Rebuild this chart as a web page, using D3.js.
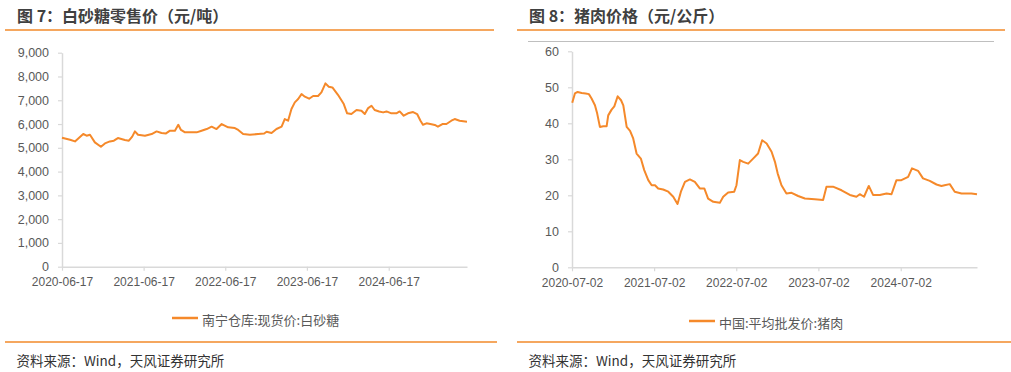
<!DOCTYPE html>
<html><head><meta charset="utf-8">
<script src="https://cdn.jsdelivr.net/npm/d3@7"></script>
<style>
html,body{margin:0;padding:0;background:#fff;}
svg{display:block;}
text{font-family:"Liberation Sans",Arial,"Noto Sans CJK SC",sans-serif;}
.cjk{font-family:"Noto Sans CJK SC","Liberation Sans",sans-serif;}
</style>
</head><body>
<svg id="c" width="1011" height="372"></svg>
<script>
// ---- Figure 7: sugar retail price (元/吨)
const sugarDates = ["2020-06-17","2020-07-23","2020-08-14","2020-09-20","2020-10-05","2020-10-20","2020-11-11","2020-12-08","2020-12-26","2021-01-17","2021-02-04","2021-02-22","2021-03-25","2021-04-12","2021-04-27","2021-05-09","2021-05-23","2021-06-23","2021-07-23","2021-08-14","2021-09-05","2021-09-25","2021-10-13","2021-11-04","2021-11-19","2021-12-01","2021-12-19","2022-01-18","2022-02-09","2022-03-03","2022-03-26","2022-04-17","2022-05-09","2022-06-01","2022-06-30","2022-07-30","2022-08-14","2022-09-05","2022-10-05","2022-11-11","2022-12-08","2022-12-19","2023-01-10","2023-02-01","2023-02-24","2023-03-10","2023-03-25","2023-04-09","2023-04-24","2023-05-09","2023-05-24","2023-06-08","2023-06-27","2023-07-15","2023-08-06","2023-08-21","2023-09-08","2023-09-23","2023-10-09","2023-11-03","2023-11-29","2023-12-14","2024-01-02","2024-01-25","2024-02-16","2024-03-02","2024-03-17","2024-04-01","2024-04-15","2024-05-05","2024-05-23","2024-06-07","2024-06-29","2024-07-21","2024-08-05","2024-08-23","2024-09-11","2024-10-04","2024-10-22","2024-11-06","2024-11-17","2024-12-03","2024-12-20","2025-01-09","2025-01-23","2025-02-12","2025-03-02","2025-03-24","2025-04-08","2025-04-30","2025-06-02"];
const sugarValues = [5420,5340,5270,5580,5510,5550,5230,5046,5185,5270,5300,5410,5330,5300,5470,5690,5550,5510,5580,5690,5620,5605,5720,5720,5970,5750,5650,5650,5650,5720,5790,5890,5790,6000,5860,5830,5750,5580,5550,5580,5600,5677,5620,5790,5890,6210,6140,6630,6910,7050,7260,7150,7065,7180,7180,7330,7710,7570,7540,7230,6840,6450,6420,6590,6560,6420,6670,6770,6590,6530,6490,6530,6450,6450,6530,6350,6450,6505,6420,6140,5970,6030,6000,5960,5890,6000,6000,6140,6210,6140,6100];
const sugarYTicks = [0,1000,2000,3000,4000,5000,6000,7000,8000,9000];
const sugarXTicks = ["2020-06-17","2021-06-17","2022-06-17","2023-06-17","2024-06-17"];

// ---- Figure 8: pork price (元/公斤)
const porkDates = ["2020-07-03","2020-07-15","2020-07-27","2020-08-14","2020-09-01","2020-09-15","2020-09-27","2020-10-12","2020-10-22","2020-11-03","2020-11-18","2020-12-03","2020-12-10","2020-12-25","2021-01-06","2021-01-21","2021-02-05","2021-02-15","2021-03-02","2021-03-17","2021-03-31","2021-04-15","2021-05-04","2021-05-19","2021-06-06","2021-06-21","2021-07-06","2021-07-20","2021-08-11","2021-09-03","2021-09-25","2021-10-14","2021-10-29","2021-11-16","2021-12-08","2021-12-30","2022-01-21","2022-02-10","2022-02-27","2022-03-22","2022-04-20","2022-05-05","2022-05-27","2022-06-23","2022-07-03","2022-07-18","2022-08-02","2022-08-24","2022-09-15","2022-10-07","2022-10-25","2022-11-14","2022-12-06","2022-12-21","2023-01-02","2023-01-19","2023-02-10","2023-03-05","2023-04-03","2023-05-03","2023-06-16","2023-07-23","2023-08-07","2023-09-05","2023-10-13","2023-11-19","2023-12-18","2024-01-02","2024-01-21","2024-02-11","2024-03-01","2024-03-31","2024-04-30","2024-05-22","2024-06-13","2024-07-05","2024-08-04","2024-08-21","2024-09-17","2024-10-09","2024-11-08","2024-12-08","2024-12-30","2025-01-13","2025-02-05","2025-02-27","2025-03-29","2025-05-12","2025-06-06"];
const porkValues = [45.7,48.3,48.7,48.4,48.3,48.1,46.9,45.0,42.7,39.0,39.2,39.2,42.2,43.8,44.7,47.5,46.4,45.0,39.0,37.9,35.8,31.6,30.2,27.0,24.2,22.8,22.8,21.9,21.6,21.0,19.6,17.6,21.0,23.7,24.4,23.7,21.9,21.9,19.1,18.2,17.9,19.6,20.8,21.0,22.8,29.8,29.3,28.8,30.2,31.6,35.3,34.4,32.1,29.3,26.1,22.8,20.5,20.7,19.8,19.1,18.9,18.7,22.4,22.4,21.4,20.1,19.6,20.3,19.6,22.6,20.1,20.1,20.5,20.3,24.2,24.2,25.1,27.5,26.8,24.7,24.0,23.0,22.6,22.8,23.1,21.0,20.5,20.5,20.3];
const porkYTicks = [0,10,20,30,40,50,60];
const porkXTicks = ["2020-07-02","2021-07-02","2022-07-02","2023-07-02","2024-07-02"];

const parse = d3.timeParse("%Y-%m-%d");
const fmtDate = d3.timeFormat("%Y-%m-%d");
const ORANGE = "#F5892A";
const RULE = "#F28A2A";
const AXIS = "#D9D9D9";
const LABEL = "#595959";
const svg = d3.select("#c");

function panel(o){
  const g = svg.append("g");
  // title
  g.append("text").attr("class","cjk").attr("x",o.titleX).attr("y",15)
    .attr("dominant-baseline","central").attr("font-size",16).attr("font-weight","bold")
    .attr("fill","#404040").text(o.title);
  g.append("line").attr("x1",o.ruleX1).attr("x2",o.ruleX2).attr("y1",30).attr("y2",30)
    .attr("stroke",RULE).attr("stroke-width",1.6);
  if(o.topBorder){
    g.append("line").attr("x1",o.topBorder[0]).attr("x2",o.topBorder[1]).attr("y1",41.5).attr("y2",41.5)
      .attr("stroke","#BFBFBF").attr("stroke-width",1);
  }
  const x = d3.scaleTime().domain(o.xDomain.map(parse)).range(o.xRange);
  const y = d3.scaleLinear().domain(o.yDomain).range(o.yRange);

  const ya = g.append("g").attr("transform",`translate(${o.xRange[0]},0)`)
    .call(d3.axisLeft(y).tickValues(o.yTicks).tickSize(4).tickSizeOuter(0).tickPadding(9)
      .tickFormat(o.yFmt));
  ya.select(".domain").attr("stroke",AXIS).attr("stroke-width",1.5);
  ya.selectAll(".tick line").attr("stroke",AXIS).attr("stroke-width",1.2);
  ya.selectAll("text").attr("fill",LABEL).attr("font-size",12.5)
    .attr("font-family","'Liberation Sans',Arial,sans-serif");

  const xa = g.append("g").attr("transform",`translate(0,${o.yRange[0]})`)
    .call(d3.axisBottom(x).tickValues(o.xTicks.map(parse)).tickSize(4).tickSizeOuter(0).tickPadding(7)
      .tickFormat(fmtDate));
  xa.select(".domain").attr("stroke",AXIS).attr("stroke-width",1.5);
  xa.selectAll(".tick line").attr("stroke",AXIS).attr("stroke-width",1.2);
  xa.selectAll("text").attr("fill",LABEL).attr("font-size",12)
    .attr("font-family","'Liberation Sans',Arial,sans-serif");

  const data = o.dates.map((d,i)=>({d:parse(d),v:o.values[i]}));
  g.append("path").datum(data)
    .attr("fill","none").attr("stroke",ORANGE).attr("stroke-width",2)
    .attr("stroke-linejoin","round")
    .attr("d",d3.line().x(p=>x(p.d)).y(p=>y(p.v)));

  // legend
  g.append("line").attr("x1",o.legX).attr("x2",o.legX+26).attr("y1",o.legY).attr("y2",o.legY)
    .attr("stroke",ORANGE).attr("stroke-width",2.5);
  g.append("text").attr("class","cjk").attr("x",o.legX+30).attr("y",o.legY+1)
    .attr("dominant-baseline","central").attr("font-size",13).attr("fill",LABEL).text(o.legend);

  // bottom rule and source
  g.append("line").attr("x1",o.bRuleX1).attr("x2",o.bRuleX2).attr("y1",342).attr("y2",342)
    .attr("stroke",RULE).attr("stroke-width",1.6);
  g.append("text").attr("class","cjk").attr("x",o.srcX).attr("y",359.5)
    .attr("dominant-baseline","central").attr("font-size",13.5).attr("fill","#333333")
    .text("资料来源：Wind，天风证券研究所");
}

panel({
  title:"图 7：白砂糖零售价（元/吨）", titleX:17, ruleX1:5, ruleX2:494,
  xDomain:["2020-06-17","2025-06-02"], xRange:[62,467],
  yDomain:[0,9000], yRange:[266.7,52.7],
  yTicks:sugarYTicks, xTicks:sugarXTicks, yFmt:d3.format(","),
  dates:sugarDates, values:sugarValues,
  legend:"南宁仓库:现货价:白砂糖", legX:172, legY:318,
  bRuleX1:5, bRuleX2:497, srcX:16.5
});
panel({
  title:"图 8：猪肉价格（元/公斤）", titleX:529, ruleX1:517, ruleX2:1005,
  topBorder:[528,994],
  xDomain:["2020-07-02","2025-06-06"], xRange:[572,977],
  yDomain:[0,60], yRange:[267.3,51.3],
  yTicks:porkYTicks, xTicks:porkXTicks, yFmt:d3.format("d"),
  dates:porkDates, values:porkValues,
  legend:"中国:平均批发价:猪肉", legX:689, legY:321,
  bRuleX1:517, bRuleX2:1011, srcX:528.5
});
</script>
</body></html>
